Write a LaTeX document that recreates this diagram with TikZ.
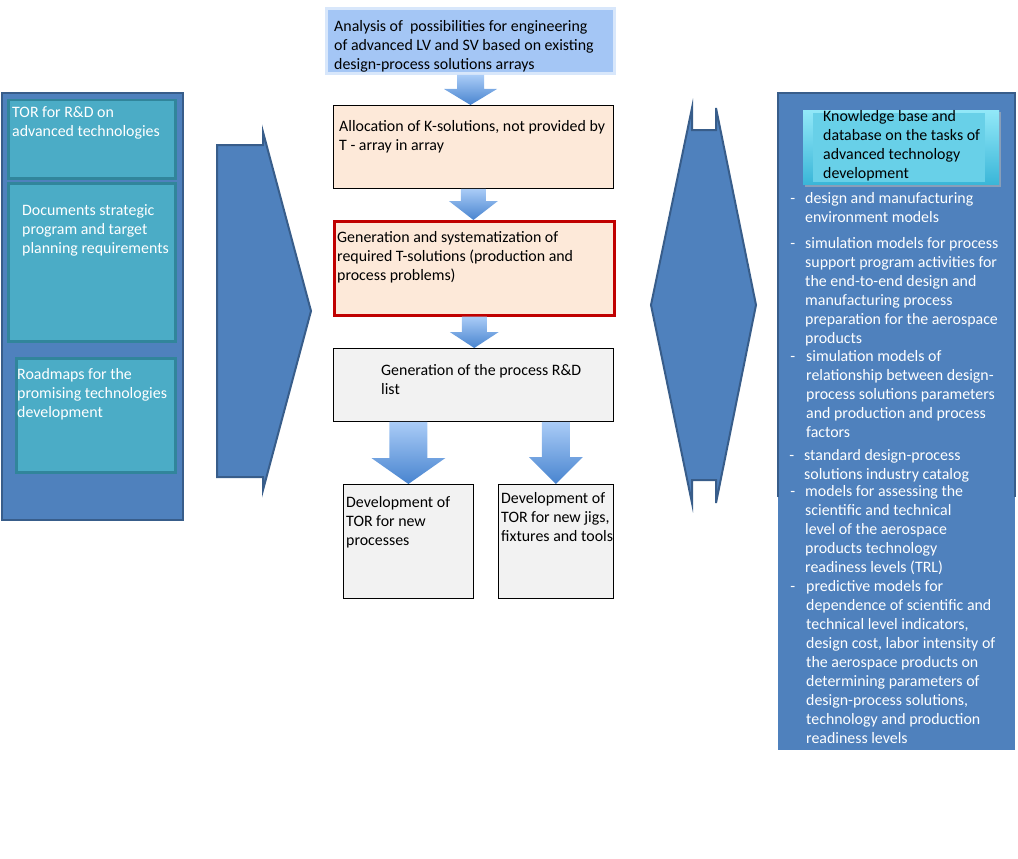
\documentclass[tikz,border=0pt]{standalone}
\usepackage{fontspec}
\setmainfont{Carlito}
\usepackage{tikz}
\usetikzlibrary{calc}
\usepackage{xcolor}

\definecolor{panelblue}{RGB}{79,129,189}
\definecolor{paneledge}{RGB}{56,93,138}
\definecolor{tealfill}{RGB}{75,172,198}
\definecolor{tealedge}{RGB}{49,133,155}
\definecolor{peach}{RGB}{253,233,217}
\definecolor{redline}{RGB}{192,0,0}
\definecolor{boxgray}{RGB}{242,242,242}
\definecolor{anablue}{RGB}{164,198,245}
\definecolor{anaglow}{RGB}{216,231,251}
\definecolor{arrowtop}{RGB}{170,204,247}
\definecolor{arrowbot}{RGB}{72,132,207}
\definecolor{kbtop}{RGB}{146,232,248}
\definecolor{kbbot}{RGB}{58,182,216}
\definecolor{kbmid}{RGB}{104,208,232}

% block arrow: #1 start, #2 tip, #3 half shaft, #4 half head, #5 head length
\newcommand{\flowarrow}[5]{%
  \shade[top color=arrowtop,bottom color=arrowbot] let \p1=(#1), \p2=(#2) in
    (\x1-#3,\y1) -- (\x1+#3,\y1) -- (\x1+#3,\y2+#5) -- (\x1+#4,\y2+#5)
    -- (\x1,\y2) -- (\x1-#4,\y2+#5) -- (\x1-#3,\y2+#5) -- cycle;}

\begin{document}
\begin{tikzpicture}[x=1pt,y=-1pt,font=\fontsize{15.9}{19}\selectfont]
      \tikzstyle{txt}=[anchor=north west,inner sep=0,align=left]
      \tikzstyle{wtxt}=[txt,text=white]
      \tikzstyle{panel}=[draw=paneledge,line width=2,fill=panelblue]
      \tikzstyle{tealbox}=[draw=tealedge,line width=2.5,fill=tealfill,anchor=north west,inner sep=0]
      \tikzstyle{plainbox}=[draw=black,line width=0.8,fill=boxgray,anchor=north west,inner sep=0]
      \tikzstyle{peachbox}=[plainbox,fill=peach]
      \useasboundingbox (0,0) rectangle (1018,859);

      % left column
      \node[panel,anchor=north west,inner sep=0,minimum width=181,minimum height=427] (leftpanel) at (1,92) {};
      \node[tealbox,minimum width=167,minimum height=78] (tor) at (7,99) {};
      \node[tealbox,minimum width=167,minimum height=158] (doc) at (7,182) {};
      \node[tealbox,minimum width=159,minimum height=114] (map) at (15,357) {};
      \node[wtxt] (torT) at (12,106) {TOR for R\&D on\\advanced technologies};
      \node[wtxt] (docT) at (22,204) {Documents strategic\\program and target\\planning requirements};
      \node[wtxt] (mapT) at (17,368) {Roadmaps for the\\promising technologies\\development};

      % arrow into the chain
      \filldraw[panel] (217,145) -- (263,145) -- (263,132) -- (311,311) -- (263,490)
          -- (263,477) -- (217,477) -- cycle;

      % middle column
      \node[fill=anablue,draw=anaglow,line width=3,anchor=north west,inner sep=0,
          minimum width=288,minimum height=65] (ana) at (325,7) {};
      \node[peachbox,minimum width=280,minimum height=83] (alloc) at (333,105) {};
      \node[peachbox,draw=redline,line width=2.5,minimum width=280,minimum height=94] (gen) at (333,220) {};
      \node[plainbox,minimum width=280,minimum height=73] (rdlist) at (333,348) {};
      \node[plainbox,minimum width=130,minimum height=114] (tornew) at (343,484) {};
      \node[plainbox,minimum width=115,minimum height=114] (torjig) at (498,484) {};

      \node[txt] (anaT) at (334,20) {Analysis of \ possibilities for engineering\\of advanced LV and SV based on existing\\design-process solutions arrays};
      \node[txt] (allocT) at (339,120) {Allocation of K-solutions, not provided by\\T - array in array};
      \node[txt] (genT) at (337,231) {Generation and systematization of\\required T-solutions (production and\\process problems)};
      \node[txt] (rdT) at (381,364) {Generation of the process R\&D\\list};
      \node[txt] (tornewT) at (346,496) {Development of\\TOR for new\\processes};
      \node[txt] (torjigT) at (501,492) {Development of\\TOR for new jigs,\\fixtures and tools};

      \flowarrow{ana.south}{alloc.north}{13.5}{26.5}{16}
      \flowarrow{alloc.south}{gen.north}{12.5}{24.5}{19}
      \flowarrow{gen.south}{rdlist.north}{12.5}{24.5}{16}
      \flowarrow{rdlist.south -| tornew.north}{tornew.north}{19}{37}{26}
      \flowarrow{rdlist.south -| torjig.north}{torjig.north}{14}{27}{27}

      % two-way link to the knowledge base
      \filldraw[panel] (692,108) -- (651,305) -- (692,503) -- (692,480) -- (716,480)
          -- (716,503) -- (756,305) -- (716,108) -- (716,130) -- (692,130) -- cycle;

      % right column
      \fill[panelblue] (778,93) rectangle (1015,750);
      \draw[paneledge,line width=2] (778,497) -- (778,93) -- (1015,93) -- (1015,497);
      \fill[paneledge!60] (805,112) rectangle (1001,187);
      \node[anchor=north west,inner sep=0,minimum width=196,minimum height=74,
          top color=kbtop,bottom color=kbbot] (kb) at (803,110) {};
      \fill[kbmid] (813,113) rectangle (985,182);
      \node[txt] (kbT) at (823,110) {Knowledge base and\\database on the tasks of\\advanced technology\\development};

      \node[wtxt] (item1) at (805,192) {\llap{-\hspace{10pt}}design and manufacturing\\environment models};
      \node[wtxt] (item2) at (805,237) {\llap{-\hspace{10pt}}simulation models for process\\support program activities for\\the end-to-end design and\\manufacturing process\\preparation for the aerospace\\products};
      \node[wtxt] (item3) at (806,350) {\llap{-\hspace{11pt}}simulation models of\\relationship between design-\\process solutions parameters\\and production and process\\factors};
      \node[wtxt] (item4) at (804,449) {\llap{-\hspace{10pt}}standard design-process\\solutions industry catalog};
      \node[wtxt] (item5) at (805,485) {\llap{-\hspace{10pt}}models for assessing the\\scientific and technical\\level of the aerospace\\products technology\\readiness levels (TRL)};
      \node[wtxt] (item6) at (806,580) {\llap{-\hspace{11pt}}predictive models for\\dependence of scientific and\\technical level indicators,\\design cost, labor intensity of\\the aerospace products on\\determining parameters of\\design-process solutions,\\technology and production\\readiness levels};
\end{tikzpicture}
\end{document}
